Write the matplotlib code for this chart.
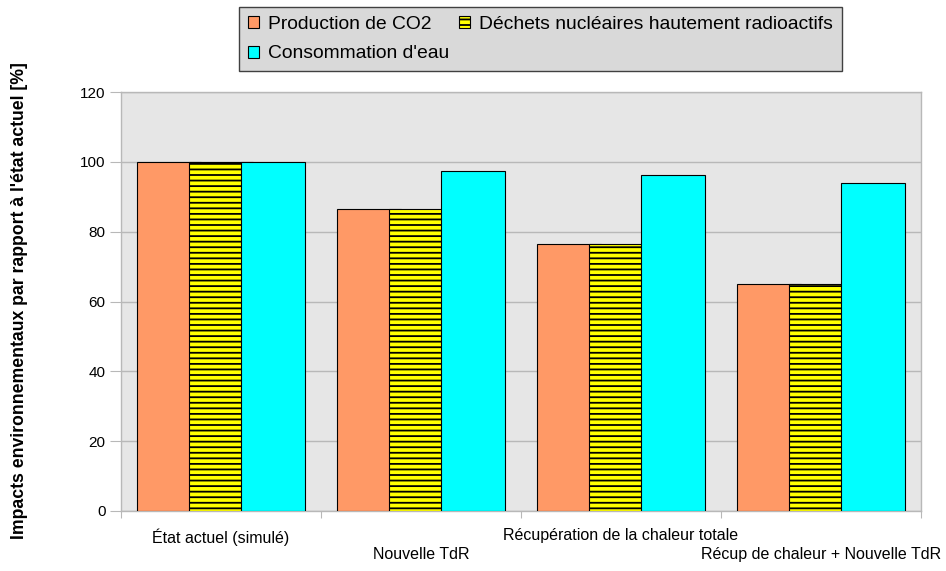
import matplotlib
matplotlib.use("Agg")
import matplotlib.pyplot as plt
import numpy as np

plt.rcParams['font.family'] = ['Liberation Sans', 'DejaVu Sans']
plt.rcParams['hatch.linewidth'] = 1.3
plt.rcParams['hatch.color'] = '#1a1a00'

categories = ["État actuel (simulé)", "Nouvelle TdR",
              "Récupération de la chaleur totale", "Récup de chaleur + Nouvelle TdR"]
co2 = [100, 86.6, 76.6, 65.1]
dechets = [100, 86.6, 76.6, 65.1]
eau = [100, 97.4, 96.2, 93.9]
yticks = [0, 20, 40, 60, 80, 100, 120]

grey = '#b8b8b8'
x = np.arange(len(categories))
step = 0.2585
width = 0.32

fig = plt.figure(figsize=(9.46, 5.71), dpi=100)
ax = fig.add_axes([121/946, 1 - 511/571, 800/946, (511 - 92)/571])
ax.set_facecolor('#e6e6e6')

b1 = ax.bar(x - step, co2, width, color='#ff9966', edgecolor='black', linewidth=0.8,
            label='Production de CO2', zorder=3)
b2 = ax.bar(x, dechets, width, color='#ffff00', edgecolor='black', linewidth=0.8,
            hatch='---', label='Déchets nucléaires hautement radioactifs', zorder=4)
b3 = ax.bar(x + step, eau, width, color='#00ffff', edgecolor='black', linewidth=0.8,
            label="Consommation d'eau", zorder=5)

ax.set_xlim(-0.5, len(categories) - 0.5)
ax.set_ylim(0, 120)
ax.set_yticks(yticks)
ax.yaxis.grid(True, color=grey, linewidth=1.0, zorder=0)
ax.set_axisbelow(True)
for s in ax.spines.values():
    s.set_color(grey)
    s.set_linewidth(1.0)

ax.tick_params(axis='y', length=8, color=grey, labelsize=11, pad=3, direction='out')

# category boundaries get the ticks, labels sit between them on two staggered rows
ax.set_xticks(np.arange(-0.5, len(categories)), labels=[''] * (len(categories) + 1))
ax.tick_params(axis='x', which='major', length=5, color=grey)
ax.set_xticks(x, minor=True)
ax.set_xticklabels(categories, minor=True, fontsize=11.5)
ax.tick_params(axis='x', which='minor', length=0)
for i, tick in enumerate(ax.xaxis.get_minor_ticks()):
    tick.set_pad(12.5 if i % 2 == 0 else 26.2)

fig.text(20/946, 1 - 301/571, "Impacts environnementaux par rapport à l'état actuel [%]",
         rotation=90, ha='center', va='center', fontsize=12.7, fontweight='bold')

# legend fills column-wise, so order handles to read row-wise
leg = fig.legend([b1, b3, b2],
                 ['Production de CO2', "Consommation d'eau",
                  'Déchets nucléaires hautement radioactifs'],
                 ncol=2, loc='upper left', bbox_to_anchor=(239/946, 1 - 7/571),
                 fontsize=13.9, frameon=True, fancybox=False, facecolor='#d9d9d9',
                 edgecolor='#404040', framealpha=1, handlelength=0.57, handleheight=0.57,
                 handletextpad=0.5, columnspacing=0.47, labelspacing=0.66,
                 borderpad=0.45, borderaxespad=0)
leg.get_frame().set_linewidth(1.0)

plt.savefig("out.png", dpi=100)
